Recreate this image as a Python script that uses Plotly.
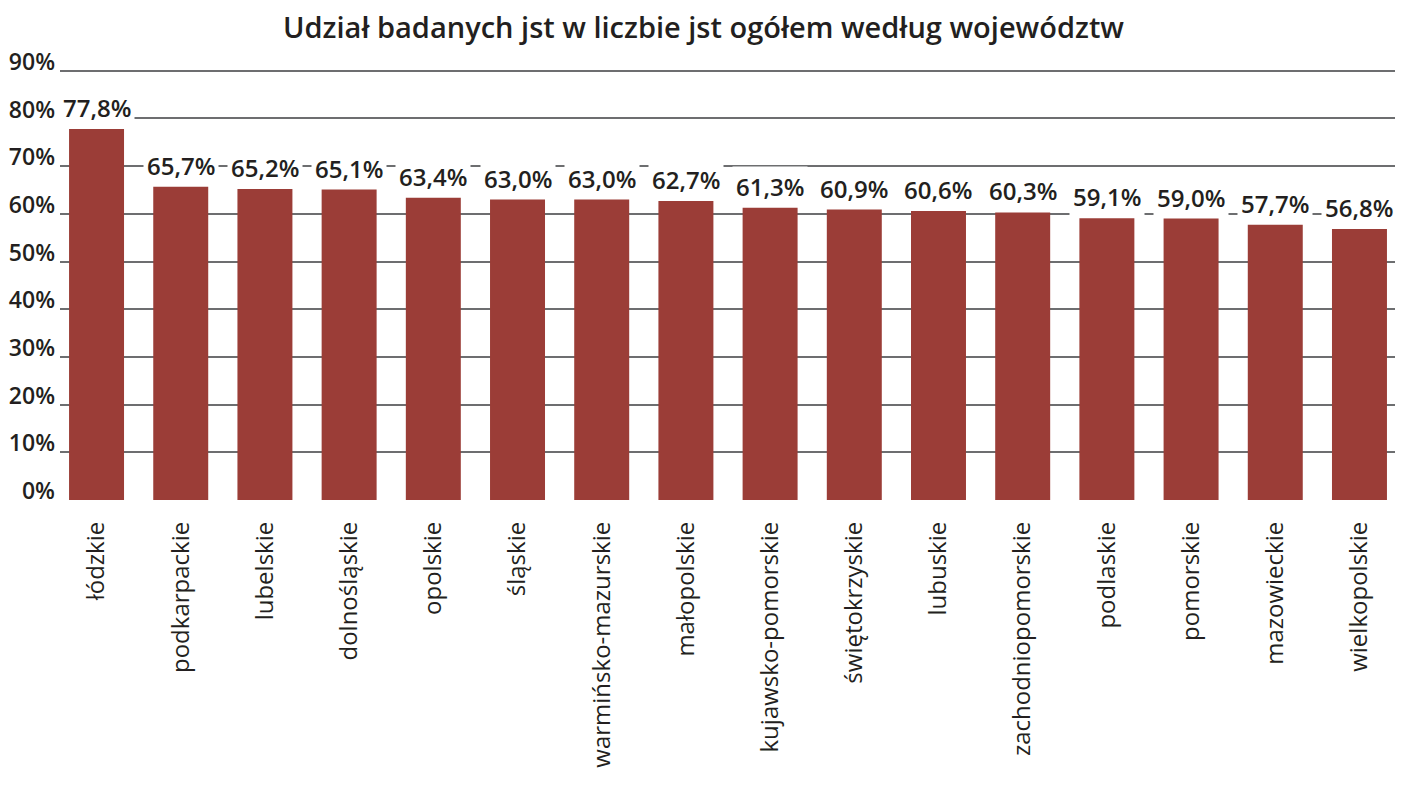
"""Udział badanych jst - bar chart by voivodeship."""

import plotly.graph_objects as go

voivodeships = [
    "łódzkie", "podkarpackie", "lubelskie", "dolnośląskie", "opolskie", "śląskie",
    "warmińsko-mazurskie", "małopolskie", "kujawsko-pomorskie", "świętokrzyskie",
    "lubuskie", "zachodniopomorskie", "podlaskie", "pomorskie", "mazowieckie", "wielkopolskie",
]
share_pct = [77.8, 65.7, 65.2, 65.1, 63.4, 63.0, 63.0, 62.7, 61.3, 60.9, 60.6, 60.3, 59.1, 59.0, 57.7, 56.8]
y_ticks = [0, 10, 20, 30, 40, 50, 60, 70, 80, 90]

FONT = "Open Sans"
TEXT = "#231f20"
BAR = "#9b3d37"


def pl_pct(value: float) -> str:
    return f"{value:.1f}%".replace(".", ",")


fig = go.Figure(
    go.Bar(
        x=voivodeships,
        y=share_pct,
        marker=dict(color=BAR, line=dict(width=0)),
        showlegend=False,
    )
)

for name, value in zip(voivodeships, share_pct):
    fig.add_annotation(
        x=name,
        y=value,
        yanchor="bottom",
        yshift=1,
        text=pl_pct(value),
        showarrow=False,
        font=dict(family=FONT, size=24, color=TEXT, weight=600),
        bgcolor="white",
        borderpad=3,
    )

fig.update_layout(
    width=1407,
    height=789,
    margin=dict(l=60, r=12, t=66, b=289, autoexpand=False),
    paper_bgcolor="white",
    plot_bgcolor="white",
    bargap=0.347,
    title=dict(
        text="Udział badanych jst w liczbie jst ogółem według województw",
        x=0.5,
        xanchor="center",
        y=1 - 28 / 789,
        yanchor="middle",
        font=dict(family=FONT, size=29, color=TEXT, weight=600),
    ),
)
fig.update_xaxes(
    automargin=False,
    # bars sit slightly left of centre in the original layout
    range=[-0.434, 15.422],
    showgrid=False,
    tickangle=-90,
    ticks="",
    ticklabelstandoff=16,
    tickfont=dict(family=FONT, size=24, color=TEXT, weight=500),
    showline=False,
)
fig.update_yaxes(
    automargin=False,
    range=[0, 91],
    tickvals=y_ticks,
    ticktext=[f"{v}%" for v in y_ticks],
    showgrid=True,
    gridcolor="#6d6e70",
    gridwidth=2,
    zeroline=False,
    showline=False,
    ticks="",
    # labels sit just above their grid line
    ticklabelshift=-9,
    ticklabelstandoff=4,
    tickfont=dict(family=FONT, size=23, color=TEXT, weight=600),
)

# the page body keeps its default 8px margin otherwise
fig.write_html(
    "out.html",
    config={"displayModeBar": False},
    post_script="document.body.style.margin = '0';",
)
